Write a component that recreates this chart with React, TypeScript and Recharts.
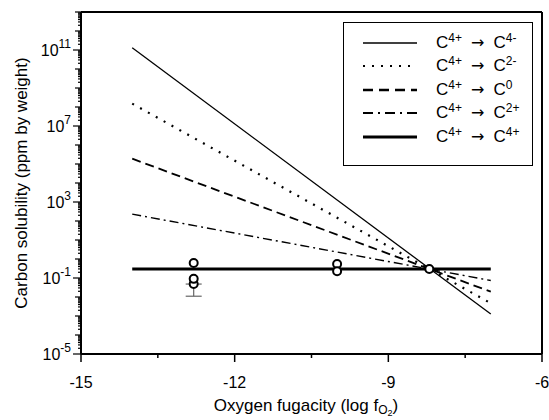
import React from 'react';
import { ComposedChart, Line, Scatter, XAxis, YAxis, ErrorBar, ReferenceLine, Legend } from 'recharts';

// Model lines (log fO2 vs carbon solubility, ppm by weight)
const lineC4minus = [ { x: -14, y: 1.3e11 }, { x: -7, y: 1.26e-3 } ];
const lineC2minus = [ { x: -14, y: 1.5e8 }, { x: -7, y: 4.7e-3 } ];
const lineC0 = [ { x: -14, y: 1.9e5 }, { x: -7, y: 1.9e-2 } ];
const lineC2plus = [ { x: -14, y: 230 }, { x: -7, y: 7.4e-2 } ];
const lineC4plus = [ { x: -14, y: 0.3 }, { x: -7, y: 0.3 } ];

// Measured data
const pointsErr = [ { x: -12.8, y: 0.048, err: [0.037, 0] } ];
const points = [
  { x: -12.8, y: 0.62 },
  { x: -12.8, y: 0.09 },
  { x: -10, y: 0.55 },
  { x: -10, y: 0.23 },
  { x: -8.2, y: 0.3 },
];

const xTicks = [-15, -13.5, -12, -10.5, -9, -7.5, -6];
const xLabelTicks = [-15, -12, -9, -6];
const yLabelExps = [-5, -1, 3, 7, 11];
const yDecades = [-5, -4, -3, -2, -1, 0, 1, 2, 3, 4, 5, 6, 7, 8, 9, 10, 11, 12, 13];
const yMinorMult = [2, 3, 4, 5, 6, 7, 8, 9];

const yTicks: number[] = [];
yDecades.forEach((d) => {
  yTicks.push(Math.pow(10, d));
  if (d < 13) yMinorMult.forEach((m) => yTicks.push(m * Math.pow(10, d)));
});

const FONT = 'Liberation Sans, Arial, Helvetica, sans-serif';

const legendItems = [
  { to: '4-', dash: undefined, width: 1.3 },
  { to: '2-', dash: '2 7', width: 2.2 },
  { to: '0', dash: '10 6', width: 2.4 },
  { to: '2+', dash: '10 5 2 5', width: 2.2 },
  { to: '4+', dash: undefined, width: 3 },
];

const XTick = (props: any) => {
  const { x, y, payload } = props;
  const v = payload.value;
  const major = xLabelTicks.includes(v);
  return (
    <g>
      <line x1={x} x2={x} y1={y} y2={y + (major ? 8 : 4)} stroke="#000" strokeWidth={1.5} />
      {major && (
        <text x={x} y={y + 34} textAnchor="middle" fontSize={16} fontFamily={FONT} fill="#000">
          {String(v)}
        </text>
      )}
    </g>
  );
};

const YTick = (props: any) => {
  const { x, y, payload } = props;
  const v = payload.value;
  const lg = Math.log10(v);
  const exp = Math.round(lg);
  const isDecade = Math.abs(lg - exp) < 1e-6;
  const isLabel = isDecade && yLabelExps.includes(exp);
  const len = isLabel ? 8 : isDecade ? 6 : 3;
  return (
    <g>
      <line x1={x} x2={x - len} y1={y} y2={y} stroke="#000" strokeWidth={1.2} />
      {isLabel && (
        <text x={x - 10} y={y + 6} textAnchor="end" fontSize={16} fontFamily={FONT} fill="#000">
          10
          <tspan dy={-8} fontSize={12}>{String(exp)}</tspan>
        </text>
      )}
    </g>
  );
};

const Circle = (props: any) => {
  const { cx, cy } = props;
  return <circle cx={cx} cy={cy} r={4} fill="#fff" stroke="#000" strokeWidth={2} />;
};

const LegendBox = () => (
  <div
    style={{
      width: 190,
      height: 144,
      boxSizing: 'border-box',
      border: '1.5px solid #000',
      background: '#fff',
      paddingTop: 8,
      fontFamily: FONT,
      fontSize: 17,
      color: '#000',
    }}
  >
    {legendItems.map((it, i) => (
      <div key={i} style={{ height: 23.5, display: 'flex', alignItems: 'center' }}>
        <svg width={56} height={10} style={{ marginLeft: 18 }}>
          <line x1={1} x2={55} y1={5} y2={5} stroke="#000" strokeWidth={it.width} strokeDasharray={it.dash} />
        </svg>
        <span style={{ marginLeft: 18, whiteSpace: 'nowrap', lineHeight: '20px' }}>
          C<sup style={{ fontSize: 12, verticalAlign: '6px', lineHeight: 0 }}>4+</sup>
          <span style={{ fontFamily: 'DejaVu Sans', fontSize: 16, margin: '0 4px' }}> → </span>
          C<sup style={{ fontSize: 12, verticalAlign: '6px', lineHeight: 0 }}>{it.to}</sup>
        </span>
      </div>
    ))}
  </div>
);

export default function App() {
  return (
    <div style={{ position: 'absolute', left: 0, top: 0, width: 549, height: 420, background: '#fff' }}>
      <ComposedChart width={549} height={420} margin={{ top: 12, right: 7, bottom: 0, left: 0 }} style={{ fontFamily: FONT }}>
        <XAxis
          type="number"
          dataKey="x"
          domain={[-15, -6]}
          ticks={xTicks}
          interval={0}
          height={66}
          tickSize={0}
          tickMargin={0}
          tickLine={false}
          tick={<XTick />}
          axisLine={{ stroke: '#000', strokeWidth: 2 }}
          allowDataOverflow
          label={() => (
            <text x={306} y={411} textAnchor="middle" fontSize={17} fontFamily={FONT} fill="#000">
              Oxygen fugacity (log f
              <tspan dy={3} fontSize={12}>O</tspan>
              <tspan dy={2} fontSize={9}>2</tspan>
              <tspan dy={-5}>)</tspan>
            </text>
          )}
        />
        <YAxis
          type="number"
          dataKey="y"
          scale="log"
          domain={[1e-5, 1e13]}
          ticks={yTicks}
          interval={0}
          width={81}
          tickSize={0}
          tickMargin={0}
          tickLine={false}
          tick={<YTick />}
          axisLine={{ stroke: '#000', strokeWidth: 2 }}
          allowDataOverflow
          label={() => (
            <text x={27} y={183} transform="rotate(-90, 27, 183)" textAnchor="middle" fontSize={17} fontFamily={FONT} fill="#000">
              Carbon solubility (ppm by weight)
            </text>
          )}
        />
        <ReferenceLine y={1e13} stroke="#000" strokeWidth={2} />
        <ReferenceLine x={-6} stroke="#000" strokeWidth={2} />
        <Line data={lineC4minus} dataKey="y" type="linear" stroke="#000" strokeWidth={1.3} dot={false} isAnimationActive={false} />
        <Line data={lineC2minus} dataKey="y" type="linear" stroke="#000" strokeWidth={2.2} strokeDasharray="2 7" dot={false} isAnimationActive={false} />
        <Line data={lineC0} dataKey="y" type="linear" stroke="#000" strokeWidth={1.8} strokeDasharray="9 5" dot={false} isAnimationActive={false} />
        <Line data={lineC2plus} dataKey="y" type="linear" stroke="#000" strokeWidth={1.4} strokeDasharray="9 4 2 4" dot={false} isAnimationActive={false} />
        <Line data={lineC4plus} dataKey="y" type="linear" stroke="#000" strokeWidth={3} dot={false} isAnimationActive={false} />
        <Scatter data={pointsErr} dataKey="y" shape={<Circle />} isAnimationActive={false}>
          <ErrorBar dataKey="err" direction="y" width={8} stroke="#666" strokeWidth={1.2} />
        </Scatter>
        <Scatter data={points} dataKey="y" shape={<Circle />} isAnimationActive={false} />
        <Legend
          layout="vertical"
          align="center"
          verticalAlign="middle"
          content={() => <LegendBox />}
          wrapperStyle={{ left: 343, top: 22, width: 190, height: 144 }}
        />
      </ComposedChart>
    </div>
  );
}
